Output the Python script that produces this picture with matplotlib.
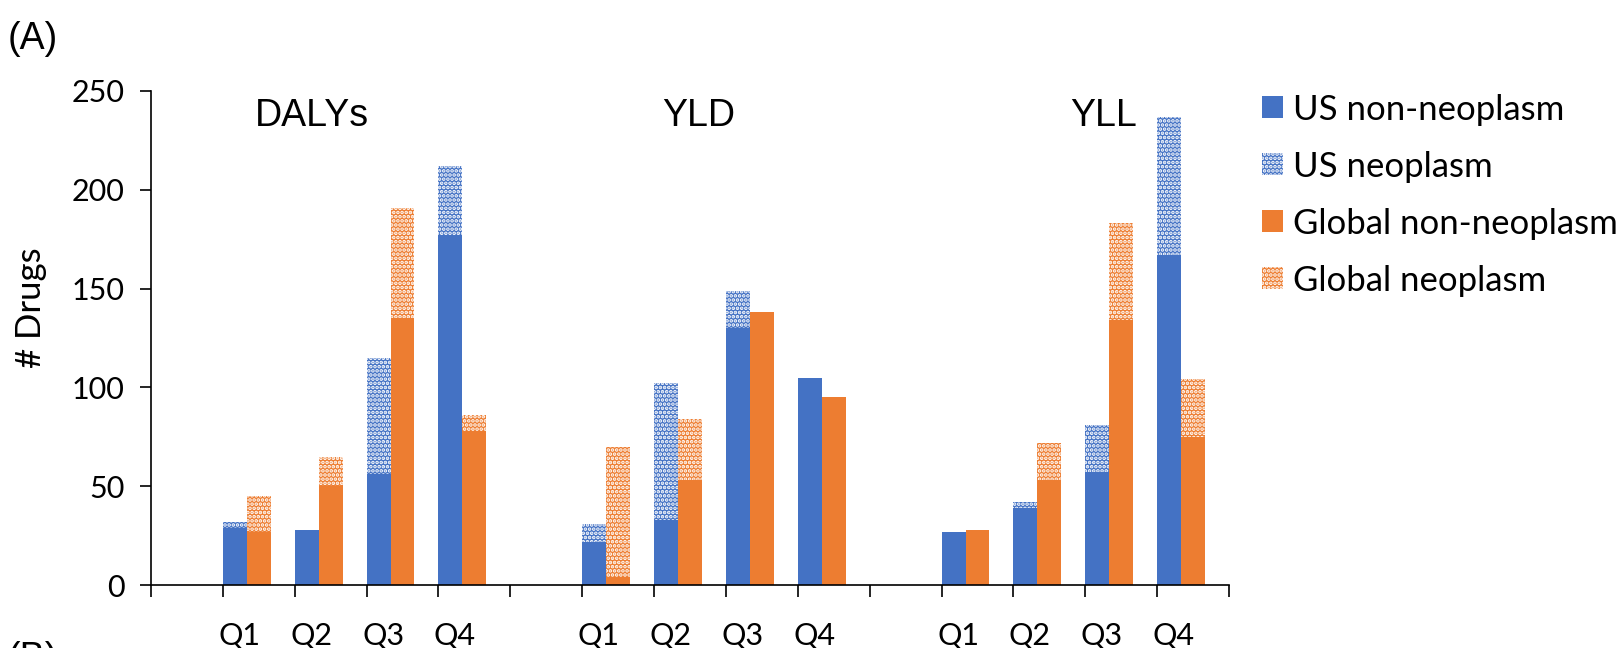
import matplotlib.pyplot as plt
from matplotlib.patches import Patch
import numpy as np

plt.rcParams["hatch.linewidth"] = 1.8

measures = ["DALYs", "YLD", "YLL"]
quartiles = ["Q1", "Q2", "Q3", "Q4"]

# counts per measure x quartile (DALYs Q1..Q4, YLD Q1..Q4, YLL Q1..Q4)
us_non_neo = [29, 28, 56, 177, 22, 33, 130, 105, 27, 39, 57, 167]
us_neo = [3, 0, 59, 35, 9, 69, 19, 0, 0, 3, 24, 70]
global_non_neo = [27, 50, 135, 78, 4, 53, 138, 95, 28, 53, 134, 75]
global_neo = [18, 15, 56, 8, 66, 31, 0, 0, 0, 19, 49, 29]

blue = "#4472C4"
orange = "#ED7D31"
tick_font = "Lato"

# one empty slot before each measure group, 15 slots total
slots = np.array([g * 5 + 1 + q for g in range(3) for q in range(4)])
w = 1 / 3

fig = plt.figure(figsize=(16.18, 6.48), dpi=100)
ax = fig.add_axes([0.0933, 0.0972, 0.7596 - 0.0933, 0.8596 - 0.0972])

ax.bar(slots + w / 2, us_non_neo, width=w, color=blue, lw=0)
ax.bar(slots + w / 2, us_neo, width=w, bottom=us_non_neo, color=blue,
       edgecolor="white", lw=0, hatch="....")
ax.bar(slots + 1.5 * w, global_non_neo, width=w, color=orange, lw=0)
ax.bar(slots + 1.5 * w, global_neo, width=w, bottom=global_non_neo, color=orange,
       edgecolor="white", lw=0, hatch="....")

ax.set_xlim(0, 15)
ax.set_ylim(0, 250)
ax.set_yticks([0, 50, 100, 150, 200, 250])
ax.set_xticks(np.arange(16))
ax.set_xticklabels([])
ax.set_xticks(slots + 0.23, quartiles * 3, minor=True)
ax.tick_params(axis="x", which="major", length=8.5, width=1.2, direction="out")
ax.tick_params(axis="x", which="minor", length=0, pad=26, labelsize=22)
ax.tick_params(axis="y", length=8, width=1.2, pad=11, labelsize=22)
for lab in ax.get_xticklabels(minor=True) + ax.get_yticklabels():
    lab.set_fontfamily(tick_font)

for s in ["top", "right"]:
    ax.spines[s].set_visible(False)
ax.spines["left"].set_linewidth(1.2)
ax.spines["bottom"].set_linewidth(1.2)

fig.text(0.019, 0.525, "# Drugs", rotation=90, ha="center", va="center",
         fontsize=25, family=tick_font)

title_x = [312, 699, 1104]
for name, x in zip(measures, title_x):
    fig.text(x / 1618, 1 - 126 / 648, name, ha="center", va="baseline",
             fontsize=27, family="Liberation Sans")

fig.text(0.005, 0.925, "(A)", fontsize=27, family="Liberation Sans")
fig.text(0.005, -0.032, "(B)", fontsize=27, family="Liberation Sans")

handles = [
    Patch(facecolor=blue, lw=0, label="US non-neoplasm"),
    Patch(facecolor=blue, edgecolor="white", lw=0, hatch="....", label="US neoplasm"),
    Patch(facecolor=orange, lw=0, label="Global non-neoplasm"),
    Patch(facecolor=orange, edgecolor="white", lw=0, hatch="....", label="Global neoplasm"),
]
fig.legend(handles=handles, loc="upper left", bbox_to_anchor=(0.7715, 0.877),
           frameon=False, prop={"family": tick_font, "size": 25},
           handlelength=0.6, handleheight=0.6, handletextpad=0.3,
           labelspacing=0.72, borderaxespad=0)

fig.savefig("out.png", dpi=100)
